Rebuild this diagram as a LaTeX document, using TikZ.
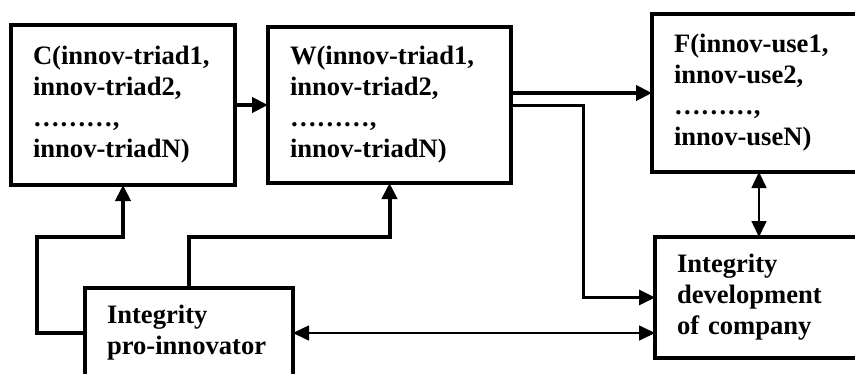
\documentclass[tikz,border=0pt]{standalone}
\usepackage{fontspec}
\setmainfont{Liberation Serif}
\usetikzlibrary{positioning, arrows.meta, calc}
\hyphenpenalty=10000
\exhyphenpenalty=10000

\begin{document}
\begin{tikzpicture}[
  block/.style={
    rectangle, draw, line width=2pt,
    align=left, font=\bfseries\fontsize{13.3pt}{15.5pt}\selectfont,
    inner xsep=11pt, inner ysep=0pt, outer sep=0pt
  },
  arr/.style={
    -{Triangle[length=8pt, width=7.5pt]}, line width=2pt
  },
  arrmid/.style={
    -{Triangle[length=8pt, width=7.5pt]}, line width=1.5pt
  },
  both/.style={
    {Triangle[length=8pt, width=7.5pt]}-{Triangle[length=8pt, width=7.5pt]}, line width=0.8pt
  }
]

% ================= Frame (picture is cut at right and bottom) =================
\useasboundingbox (0,0) rectangle (427.5pt,-187pt);
\clip (0,0) rectangle (427.5pt,-187pt);

% ================= Row 1: Triads and Uses =================
\node[block, text width=90pt, minimum height=80pt, anchor=north west] (C) at (5.5pt,-12.5pt) {C(innov-triad1,\\innov-triad2,\\………,\\innov-triadN)};
\node[block, text width=99.5pt, minimum height=78pt, right=16.5pt of C] (W) {W(innov-triad1,\\innov-triad2,\\………,\\innov-triadN)};
\node[block, text width=92pt, minimum height=79pt, right=70.5pt of W, yshift=6pt] (F) {F(innov-use1,\\innov-use2,\\………,\\innov-useN)};

% ================= Row 2: Integrity =================
\node[block, text width=90.5pt, minimum height=60.5pt, below=32.5pt of F.south west, anchor=north west, xshift=1.5pt] (D) {Integrity\\development\\of company};
\node[block, text width=82pt, minimum height=45pt, below=51.5pt of C.south west, anchor=north west, xshift=37pt] (P) {Integrity\\pro-innovator};

\coordinate (jC) at ([yshift=-26pt]C.south);
\coordinate (jW) at ([yshift=-27pt]W.south);

% ================= Connections: Row 1 =================
\draw[arr] (C) -- (W);
\draw[arr] (W.east |- F.west) -- (F.west);
\draw[arrmid] (W.east) -- ++(36pt,0) |- (D.west);
\draw[both] ([xshift=-3.5pt]F.south) -- ([xshift=-3.5pt]F.south |- D.north);

% ================= Connections: Pro-innovator =================
\draw[arr] (P.west) -- ++(-24pt,0) |- (jC) -- (C.south);
\draw[arr] (P.north) |- (jW) -- (W.south);
\draw[both] (P.east) -- (P.east -| D.west);

\end{tikzpicture}
\end{document}
